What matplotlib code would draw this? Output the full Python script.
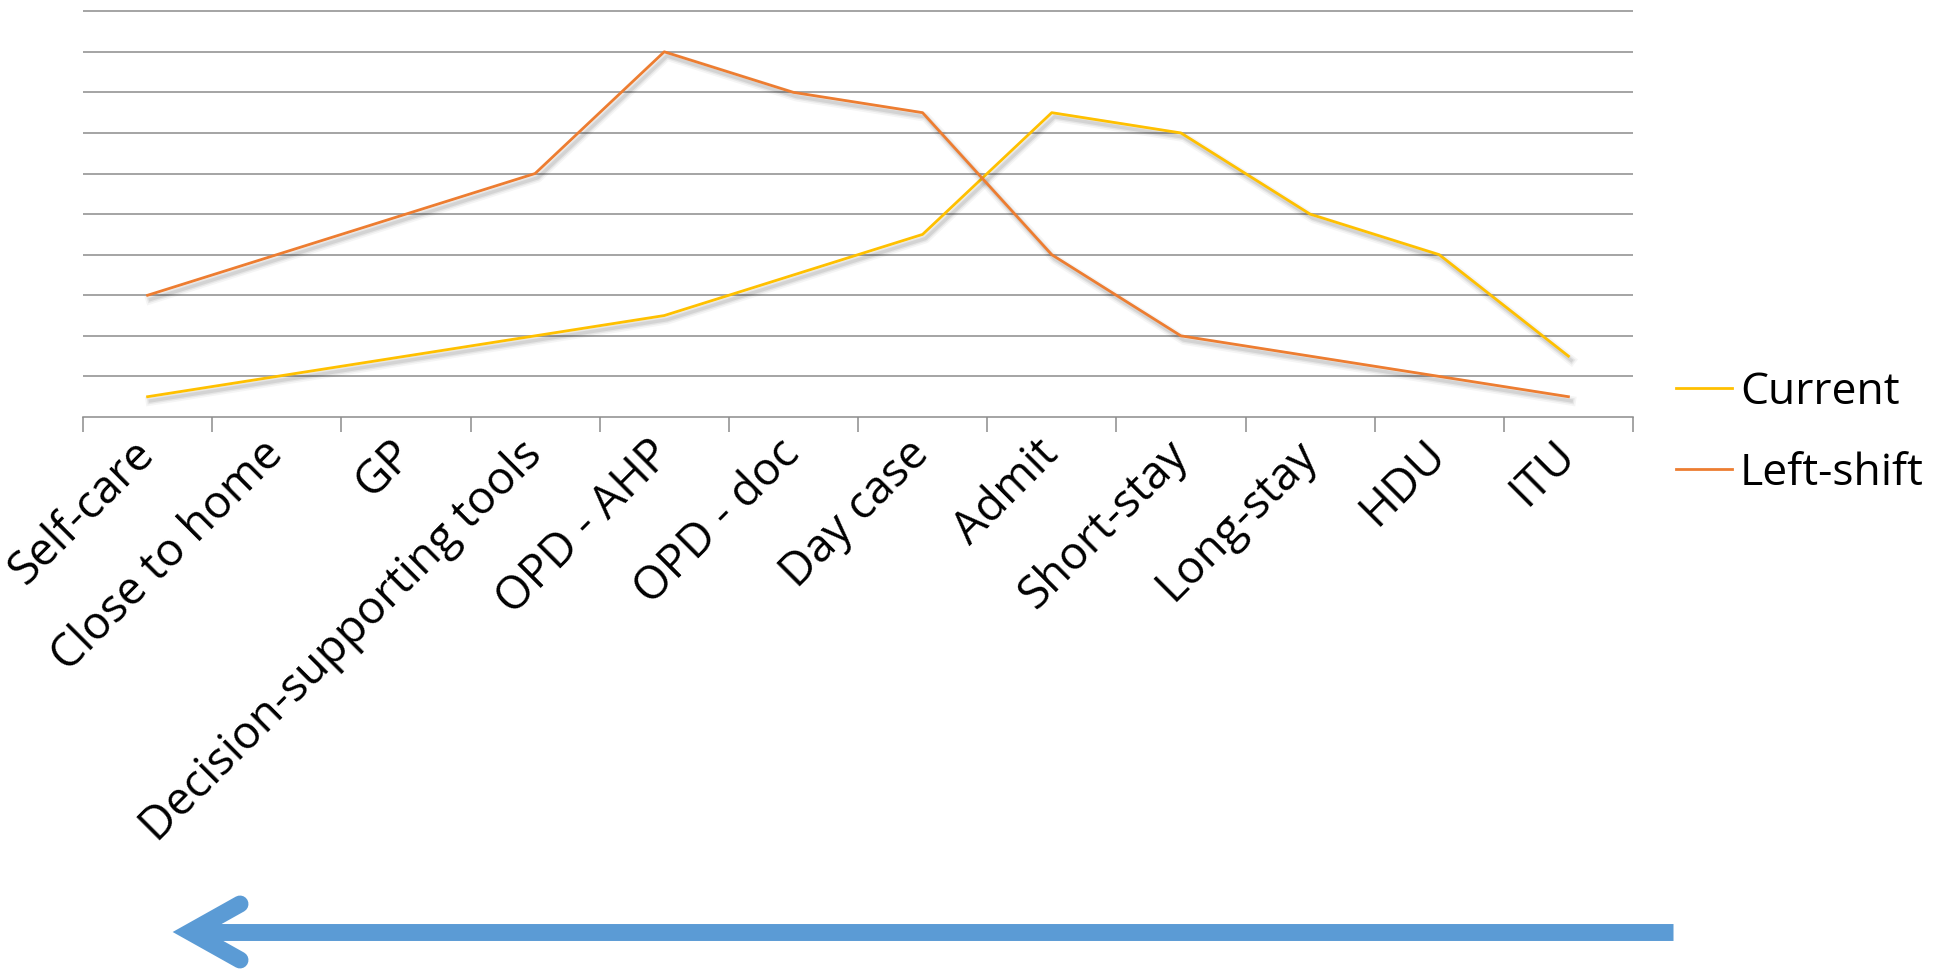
import numpy as np
import matplotlib
matplotlib.use("Agg")
import matplotlib.pyplot as plt
import matplotlib.patheffects as pe
from matplotlib.lines import Line2D

plt.rcParams['font.family'] = ['Open Sans', 'DejaVu Sans']

# care settings, most self-managed on the left
settings = ["Self-care", "Close to home", "GP", "Decision-supporting tools",
            "OPD - AHP", "OPD - doc", "Day case", "Admit", "Short-stay",
            "Long-stay", "HDU", "ITU"]
current = [0.5, 1.0, 1.5, 2.0, 2.5, 3.5, 4.5, 7.5, 7.0, 5.0, 4.0, 1.5]
left_shift = [3.0, 4.0, 5.0, 6.0, 9.0, 8.0, 7.5, 4.0, 2.0, 1.5, 1.0, 0.5]

CURRENT_COLOR = "#FFC000"
SHIFT_COLOR = "#ED7D31"
GRID_COLOR = "#8c8c8c"
ARROW_COLOR = "#5B9BD5"

W, H = 1951, 971
fig = plt.figure(figsize=(W / 100, H / 100), dpi=100)
fig.patch.set_facecolor("white")


def px(x, y):
    """pixel position (from top-left) -> figure fraction"""
    return x / W, 1 - y / H


left, top, right, bottom = 83, 10, 1633, 417
ax = fig.add_axes([left / W, 1 - bottom / H, (right - left) / W, (bottom - top) / H])

x = np.arange(len(settings))

# soft drop shadow under each line
shadow = [
    pe.SimpleLineShadow(offset=(2, -3), shadow_color="black", alpha=0.04, linewidth=7),
    pe.SimpleLineShadow(offset=(2, -3), shadow_color="black", alpha=0.06, linewidth=4.5),
    pe.SimpleLineShadow(offset=(2, -3), shadow_color="black", alpha=0.08, linewidth=2.5),
    pe.Normal(),
]

ax.plot(x, current, color=CURRENT_COLOR, lw=2.0, path_effects=shadow, zorder=3)
ax.plot(x, left_shift, color=SHIFT_COLOR, lw=2.0, path_effects=shadow, zorder=3)

ax.set_xlim(-0.5, len(settings) - 0.5)
ax.set_ylim(0, 10.03)

ax.set_yticks(np.arange(1, 11))
ax.yaxis.grid(True, color=GRID_COLOR, lw=1.1)
ax.tick_params(axis="y", left=False, labelleft=False)
ax.set_axisbelow(True)

# tick marks on category boundaries, labels centred on categories
ax.set_xticks(np.arange(-0.5, len(settings)), labels=[])
ax.set_xticks(x, labels=settings, minor=True)
ax.tick_params(axis="x", which="major", direction="out", length=11, width=1.1,
               color=GRID_COLOR)
ax.tick_params(axis="x", which="minor", length=0, pad=22, labelsize=33)
for lbl in ax.get_xticklabels(minor=True):
    lbl.set_rotation(45)
    lbl.set_rotation_mode("anchor")
    lbl.set_ha("right")
    lbl.set_va("center")

for s in ["top", "left", "right"]:
    ax.spines[s].set_visible(False)
ax.spines["bottom"].set_color(GRID_COLOR)
ax.spines["bottom"].set_linewidth(1.1)

handles = [Line2D([], [], color=CURRENT_COLOR, lw=2.0),
           Line2D([], [], color=SHIFT_COLOR, lw=2.0)]
fig.legend(handles, ["Current", "Left-shift"], loc="center left",
           bbox_to_anchor=px(1676, 433), frameon=False, fontsize=32,
           handlelength=1.27, handletextpad=0.17, labelspacing=0.83,
           borderpad=0, borderaxespad=0)

# direction arrow along the bottom
y_arrow = 932
shaft = Line2D([px(1673, 0)[0], px(200, 0)[0]], [px(0, y_arrow)[1]] * 2,
               transform=fig.transFigure, color=ARROW_COLOR, lw=12.2,
               solid_capstyle="butt")
head_x = [px(240, 0)[0], px(190, 0)[0], px(240, 0)[0]]
head_y = [px(0, 904)[1], px(0, y_arrow)[1], px(0, 960)[1]]
head = Line2D(head_x, head_y, transform=fig.transFigure, color=ARROW_COLOR, lw=12.2,
              solid_capstyle="round", solid_joinstyle="miter")
fig.add_artist(shaft)
fig.add_artist(head)

fig.savefig("out.png", dpi=100)
